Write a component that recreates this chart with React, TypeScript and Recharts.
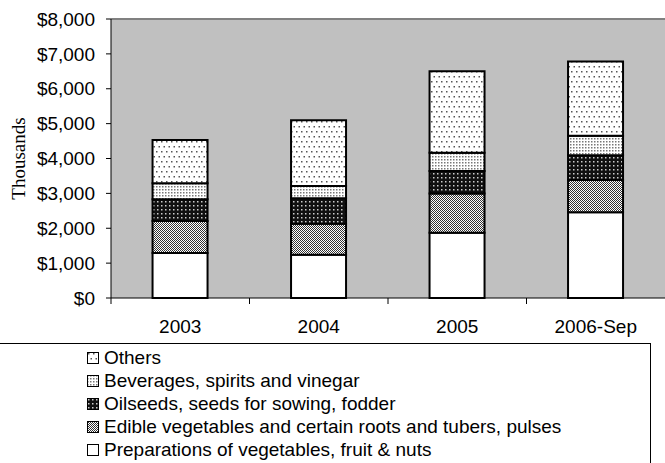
import { BarChart, Bar, XAxis, YAxis, CartesianGrid, Legend, ReferenceLine, Label } from 'recharts'

const years = ['2003', '2004', '2005', '2006-Sep']
const preparations = [1290, 1240, 1870, 2460]
const edible = [920, 890, 1130, 925]
const oilseeds = [620, 730, 640, 710]
const beverages = [460, 350, 525, 555]
const others = [1240, 1890, 2340, 2130]
const yTicks = [0, 1000, 2000, 3000, 4000, 5000, 6000, 7000, 8000]

const series = [
  { key: 'prep', name: 'Preparations of vegetables, fruit & nuts', fill: '#ffffff' },
  { key: 'edible', name: 'Edible vegetables and certain roots and tubers, pulses', fill: 'url(#patEdible)' },
  { key: 'oil', name: 'Oilseeds, seeds for sowing, fodder', fill: 'url(#patOil)' },
  { key: 'bev', name: 'Beverages, spirits and vinegar', fill: 'url(#patBev)' },
  { key: 'others', name: 'Others', fill: 'url(#patOthers)' },
]

const data = years.map((y, i) => ({
  year: y,
  prep: preparations[i],
  edible: edible[i],
  oil: oilseeds[i],
  bev: beverages[i],
  others: others[i],
}))

const SANS = '"Liberation Sans", Arial, sans-serif'

function fmt(v: number) {
  return '$' + v.toLocaleString('en-US')
}

function XTick(props: any) {
  const { x, y, payload } = props
  const off = payload?.offset ?? 0
  return (
    <g>
      <line x1={x - off} x2={x - off} y1={y} y2={y + 6} stroke="#000" />
      <text x={x} y={y + 28} dy="0.355em" textAnchor="middle" fontSize={19} fontFamily={SANS} fill="#000">
        {payload.value}
      </text>
    </g>
  )
}

// legend lists the top of the stack first
function renderLegend() {
  const items = [...series].reverse()
  return (
    <div style={{ paddingTop: 2 }}>
      {items.map((it) => (
        <div key={it.key} style={{ display: 'flex', alignItems: 'center', height: 23, paddingLeft: 87, fontFamily: SANS, fontSize: 19 }}>
          <svg width={13} height={12} style={{ marginRight: 4 }}>
            <rect x={0.5} y={0.5} width={11} height={11} fill={it.fill} stroke="#000" />
          </svg>
          <span style={{ color: '#000' }}>{it.name}</span>
        </div>
      ))}
    </div>
  )
}

export default function App() {
  return (
    <div style={{ position: 'absolute', left: 0, top: 0, width: 665, height: 463, overflow: 'hidden', background: '#fff' }}>
      <BarChart width={665} height={463} data={data} margin={{ top: 19, right: 0, left: 0, bottom: 120 }} barCategoryGap="30%">
        <defs>
          <pattern id="patOthers" width={5} height={10} patternUnits="userSpaceOnUse">
            <rect width={5} height={10} fill="#fff" />
            <rect x={1} y={1} width={1.5} height={1.5} fill="#555" />
            <rect x={3.5} y={6} width={1.5} height={1.5} fill="#555" />
          </pattern>
          <pattern id="patBev" width={3} height={3} patternUnits="userSpaceOnUse">
            <rect width={3} height={3} fill="#fff" />
            <rect x={0} y={0} width={1.5} height={1.5} fill="#777" />
          </pattern>
          <pattern id="patOil" width={4} height={4} patternUnits="userSpaceOnUse">
            <rect width={4} height={4} fill="#111" />
            <rect x={1} y={1} width={1.5} height={1.5} fill="#ccc" />
          </pattern>
          <pattern id="patEdible" width={2} height={2} patternUnits="userSpaceOnUse">
            <rect width={2} height={2} fill="#fff" />
            <rect x={0} y={0} width={1} height={1} fill="#333" />
            <rect x={1} y={1} width={1} height={1} fill="#333" />
          </pattern>
        </defs>
        <CartesianGrid fill="#c0c0c0" horizontal={false} vertical={false} />
        <ReferenceLine y={8000} stroke="#808080" strokeWidth={2} />
        <XAxis
          dataKey="year"
          height={45}
          axisLine={{ stroke: '#000' }}
          tickLine={false}
          tickSize={0}
          tickMargin={0}
          tick={<XTick />}
        />
        <YAxis
          width={111}
          domain={[0, 8000]}
          ticks={yTicks}
          tickFormatter={fmt}
          axisLine={{ stroke: '#000' }}
          tickLine={{ stroke: '#000' }}
          tickSize={5}
          tickMargin={11}
          tick={{ fontSize: 19, fontFamily: SANS, fill: '#000' }}
        >
          <Label
            content={(p: any) => {
              const vb = p.viewBox
              const cx = vb.x + 18.5
              const cy = vb.y + vb.height / 2
              return (
                <text x={cx} y={cy} transform={`rotate(-90 ${cx} ${cy})`} textAnchor="middle" dy="0.355em" fontSize={19} fontFamily='"Liberation Serif", serif' fill="#000">
                  Thousands
                </text>
              )
            }}
          />
        </YAxis>
        {series.map((s) => (
          <Bar key={s.key} dataKey={s.key} name={s.name} stackId="a" fill={s.fill} stroke="#000" strokeWidth={2} isAnimationActive={false} />
        ))}
        <Legend
          layout="horizontal"
          verticalAlign="middle"
          align="center"
          content={renderLegend}
          wrapperStyle={{ top: 343, left: -1, width: 652, height: 130, border: '1px solid #000', boxSizing: 'border-box', background: '#fff' }}
        />
      </BarChart>
    </div>
  )
}
